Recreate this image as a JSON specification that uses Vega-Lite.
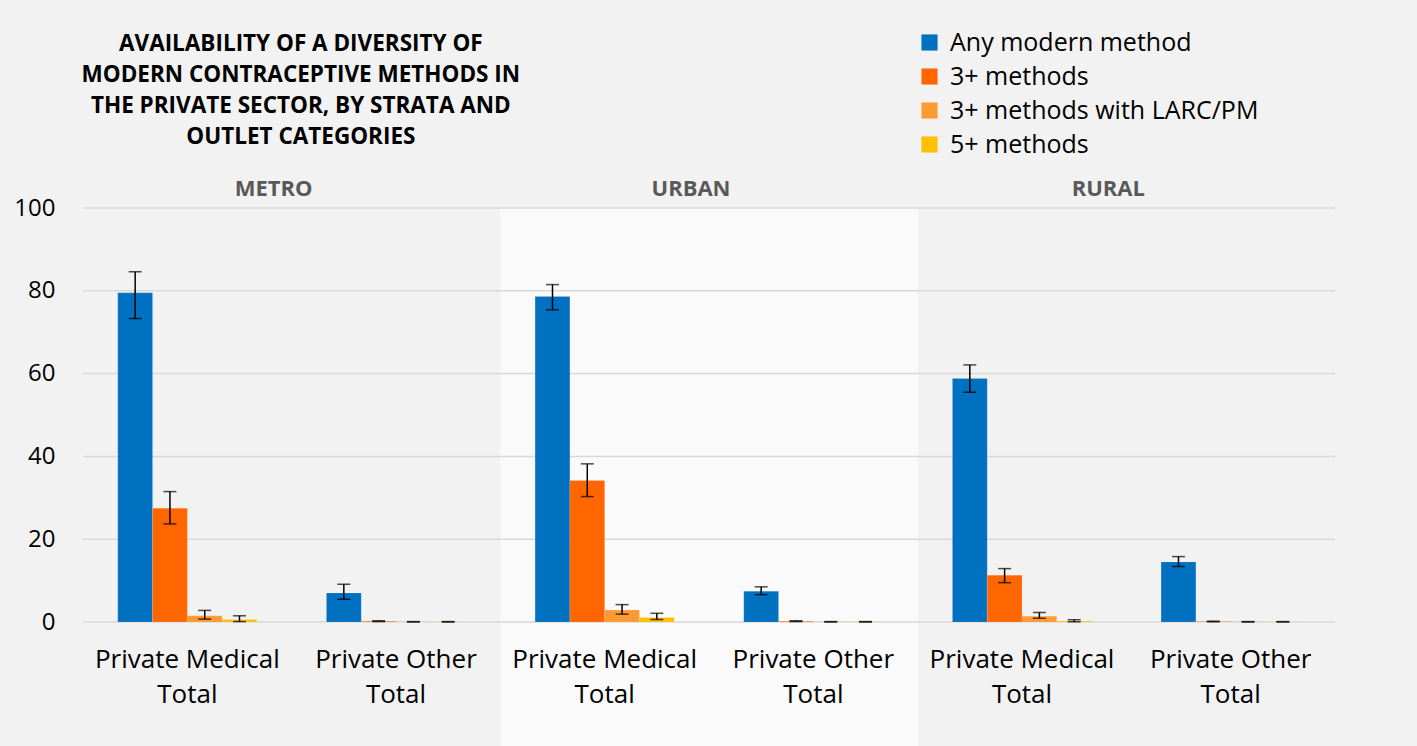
{
  "$schema": "https://vega.github.io/schema/vega-lite/v6.json",
  "width": 1252,
  "height": 414,
  "autosize": "none",
  "padding": {"left": 83, "top": 208, "right": 82, "bottom": 124},
  "background": "#F2F2F2",
  "config": {
    "view": {"stroke": null},
    "font": "Open Sans"
  },
  "title": {
    "text": ["AVAILABILITY OF A DIVERSITY OF", "MODERN CONTRACEPTIVE METHODS IN", "THE PRIVATE SECTOR, BY STRATA AND", "OUTLET CATEGORIES"],
    "anchor": "start",
    "align": "center",
    "dx": 287,
    "offset": -118,
    "font": "Open Sans",
    "fontSize": 22.5,
    "fontWeight": "bold",
    "lineHeight": 31,
    "color": "#000000"
  },
  "datasets": {
    "bars": [
      {"group": "METRO|Private Medical Total", "series": "Any modern method", "value": 79.5, "lo": 73.3, "hi": 84.6},
      {"group": "METRO|Private Medical Total", "series": "3+ methods", "value": 27.5, "lo": 23.7, "hi": 31.5},
      {"group": "METRO|Private Medical Total", "series": "3+ methods with LARC/PM", "value": 1.5, "lo": 0.7, "hi": 2.8},
      {"group": "METRO|Private Medical Total", "series": "5+ methods", "value": 0.6, "lo": 0.1, "hi": 1.5},
      {"group": "METRO|Private Other Total", "series": "Any modern method", "value": 7.0, "lo": 5.5, "hi": 9.1},
      {"group": "METRO|Private Other Total", "series": "3+ methods", "value": 0.2, "lo": 0.1, "hi": 0.3},
      {"group": "METRO|Private Other Total", "series": "3+ methods with LARC/PM", "value": 0.05, "lo": 0.0, "hi": 0.1},
      {"group": "METRO|Private Other Total", "series": "5+ methods", "value": 0.05, "lo": 0.0, "hi": 0.1},
      {"group": "URBAN|Private Medical Total", "series": "Any modern method", "value": 78.6, "lo": 75.4, "hi": 81.5},
      {"group": "URBAN|Private Medical Total", "series": "3+ methods", "value": 34.2, "lo": 30.3, "hi": 38.2},
      {"group": "URBAN|Private Medical Total", "series": "3+ methods with LARC/PM", "value": 2.9, "lo": 1.9, "hi": 4.2},
      {"group": "URBAN|Private Medical Total", "series": "5+ methods", "value": 1.1, "lo": 0.6, "hi": 2.1},
      {"group": "URBAN|Private Other Total", "series": "Any modern method", "value": 7.4, "lo": 6.6, "hi": 8.5},
      {"group": "URBAN|Private Other Total", "series": "3+ methods", "value": 0.2, "lo": 0.1, "hi": 0.3},
      {"group": "URBAN|Private Other Total", "series": "3+ methods with LARC/PM", "value": 0.05, "lo": 0.0, "hi": 0.1},
      {"group": "URBAN|Private Other Total", "series": "5+ methods", "value": 0.05, "lo": 0.0, "hi": 0.1},
      {"group": "RURAL|Private Medical Total", "series": "Any modern method", "value": 58.8, "lo": 55.5, "hi": 62.1},
      {"group": "RURAL|Private Medical Total", "series": "3+ methods", "value": 11.3, "lo": 9.5, "hi": 12.9},
      {"group": "RURAL|Private Medical Total", "series": "3+ methods with LARC/PM", "value": 1.4, "lo": 0.9, "hi": 2.3},
      {"group": "RURAL|Private Medical Total", "series": "5+ methods", "value": 0.25, "lo": 0.05, "hi": 0.55},
      {"group": "RURAL|Private Other Total", "series": "Any modern method", "value": 14.5, "lo": 13.4, "hi": 15.8},
      {"group": "RURAL|Private Other Total", "series": "3+ methods", "value": 0.1, "lo": 0.05, "hi": 0.2},
      {"group": "RURAL|Private Other Total", "series": "3+ methods with LARC/PM", "value": 0.05, "lo": 0.0, "hi": 0.1},
      {"group": "RURAL|Private Other Total", "series": "5+ methods", "value": 0.05, "lo": 0.0, "hi": 0.1}
    ],
    "bg": [
      {"group": "URBAN|Private Medical Total"},
      {"group": "URBAN|Private Other Total"}
    ],
    "grid": [{"v": 0}, {"v": 20}, {"v": 40}, {"v": 60}, {"v": 80}, {"v": 100}],
    "strata": [
      {"stratum": "METRO", "group": "METRO|Private Other Total"},
      {"stratum": "URBAN", "group": "URBAN|Private Other Total"},
      {"stratum": "RURAL", "group": "RURAL|Private Other Total"}
    ]
  },
  "encoding": {
    "x": {
      "field": "group",
      "type": "nominal",
      "scale": {
        "domain": ["METRO|Private Medical Total", "METRO|Private Other Total", "URBAN|Private Medical Total", "URBAN|Private Other Total", "RURAL|Private Medical Total", "RURAL|Private Other Total"],
        "paddingInner": 0,
        "paddingOuter": 0
      },
      "axis": {
        "title": null,
        "domain": false,
        "ticks": false,
        "labelAngle": 0,
        "labelFont": "Open Sans",
        "labelFontSize": 26,
        "labelColor": "#000000",
        "labelLineHeight": 35,
        "labelPadding": 24,
        "labelBaseline": "top",
        "labelLimit": 400,
        "labelExpr": "indexof(datum.value, 'Medical') >= 0 ? ['Private Medical', 'Total'] : ['Private Other', 'Total']"
      }
    }
  },
  "layer": [
    {
      "data": {"name": "bg"},
      "mark": {"type": "rect", "fill": "#FAFAFA", "clip": false},
      "encoding": {
        "y": {"datum": 100, "type": "quantitative", "scale": {"domain": [0, 100], "nice": false}},
        "y2": {"datum": -30}
      }
    },
    {
      "data": {"name": "grid"},
      "mark": {"type": "rule", "color": "#D9D9D9", "strokeWidth": 1.5},
      "encoding": {
        "x": null,
        "y": {"field": "v", "type": "quantitative"}
      }
    },
    {
      "data": {"name": "bars"},
      "mark": {"type": "bar", "stroke": "#FFFFFF", "strokeOpacity": 0.25, "strokeWidth": 0.5},
      "encoding": {
        "xOffset": {
          "field": "series",
          "type": "nominal",
          "scale": {"domain": ["Any modern method", "3+ methods", "3+ methods with LARC/PM", "5+ methods"], "paddingInner": 0, "paddingOuter": 1.07}
        },
        "y": {
          "field": "value",
          "type": "quantitative",
          "scale": {"domain": [0, 100], "nice": false},
          "axis": {
            "title": null,
            "values": [0, 20, 40, 60, 80, 100],
            "grid": false,
            "domain": false,
            "ticks": false,
            "labelFont": "Open Sans",
            "labelFontSize": 24,
            "labelColor": "#000000",
            "labelPadding": 28
          }
        },
        "color": {
          "field": "series",
          "type": "nominal",
          "scale": {
            "domain": ["Any modern method", "3+ methods", "3+ methods with LARC/PM", "5+ methods"],
            "range": ["#0070C0", "#FF6600", "#FF9933", "#FFC000"]
          },
          "legend": {
            "title": null,
            "orient": "none",
            "legendX": 834,
            "legendY": -178,
            "symbolType": "square",
            "symbolSize": 260,
            "symbolStrokeWidth": 0,
            "symbolOpacity": 1,
            "labelFont": "Open Sans",
            "labelFontSize": 25,
            "labelColor": "#000000",
            "labelOffset": 8,
            "labelLimit": 500,
            "rowPadding": 8
          }
        }
      }
    },
    {
      "data": {"name": "bars"},
      "mark": {"type": "rule", "color": "#000000", "strokeWidth": 1.5},
      "encoding": {
        "xOffset": {"field": "series", "type": "nominal"},
        "y": {"field": "lo", "type": "quantitative"},
        "y2": {"field": "hi"}
      }
    },
    {
      "data": {"name": "bars"},
      "mark": {"type": "tick", "color": "#000000", "thickness": 1.5, "size": 13, "orient": "horizontal"},
      "encoding": {
        "xOffset": {"field": "series", "type": "nominal"},
        "y": {"field": "lo", "type": "quantitative"}
      }
    },
    {
      "data": {"name": "bars"},
      "mark": {"type": "tick", "color": "#000000", "thickness": 1.5, "size": 13, "orient": "horizontal"},
      "encoding": {
        "xOffset": {"field": "series", "type": "nominal"},
        "y": {"field": "hi", "type": "quantitative"}
      }
    },
    {
      "data": {"name": "strata"},
      "mark": {"type": "text", "font": "Open Sans", "fontSize": 22, "fontWeight": "bold", "color": "#595959", "baseline": "middle", "align": "center", "dx": -18, "clip": false},
      "encoding": {
        "x": {"field": "group", "type": "nominal", "bandPosition": 0},
        "y": {"datum": 104.5, "type": "quantitative"},
        "text": {"field": "stratum"}
      }
    }
  ]
}
